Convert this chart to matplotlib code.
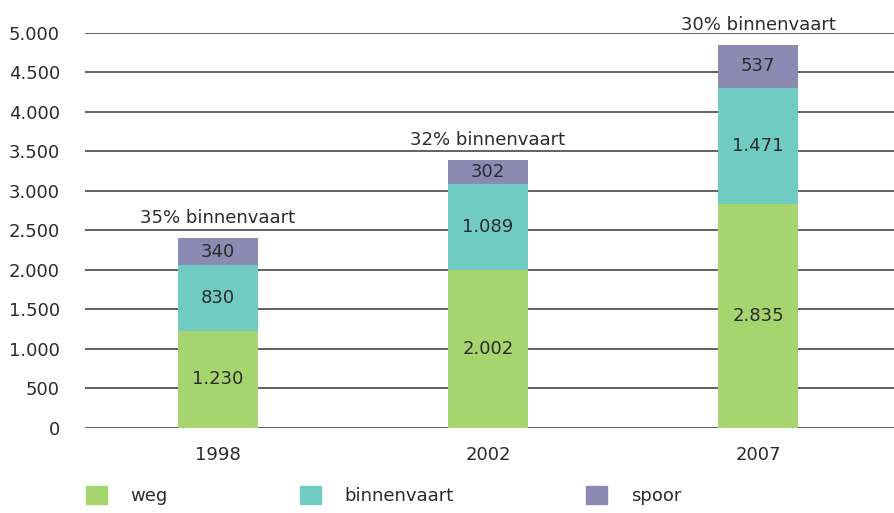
import matplotlib
matplotlib.use("Agg")
import matplotlib.pyplot as plt
from matplotlib.patches import Patch

# data
years = ["1998", "2002", "2007"]
weg = [1230, 2002, 2835]
binnenvaart = [830, 1089, 1471]
spoor = [340, 302, 537]
share_labels = ["35% binnenvaart", "32% binnenvaart", "30% binnenvaart"]
series_names = ["weg", "binnenvaart", "spoor"]

c_weg = "#a6d46e"
c_bin = "#70cbc2"
c_spo = "#8a8ab3"
txt = "#2b2b2b"

plt.rcParams["font.family"] = ["DejaVu Sans"]

fig = plt.figure(figsize=(8.94, 5.13), dpi=100)
ax = fig.add_axes([0.095, 0.166, 0.905, 0.770])

x = range(len(years))
w = 0.296

# grid lines
for v in range(0, 5001, 500):
    ax.axhline(v, color="#555555", lw=1.3, zorder=1)

ax.bar(x, weg, w, color=c_weg, zorder=2)
ax.bar(x, binnenvaart, w, bottom=weg, color=c_bin, zorder=2)
bottom3 = [a + b for a, b in zip(weg, binnenvaart)]
ax.bar(x, spoor, w, bottom=bottom3, color=c_spo, zorder=2)

def fmt(v):
    return f"{v:,}".replace(",", ".")

for i in x:
    ax.text(i, weg[i] / 2, fmt(weg[i]), ha="center", va="center",
            fontsize=13, color=txt, zorder=3)
    ax.text(i, weg[i] + binnenvaart[i] / 2, fmt(binnenvaart[i]), ha="center",
            va="center", fontsize=13, color=txt, zorder=3)
    ax.text(i, bottom3[i] + spoor[i] / 2, fmt(spoor[i]), ha="center",
            va="center", fontsize=13, color=txt, zorder=3)
    total = bottom3[i] + spoor[i]
    ax.annotate(share_labels[i], (i, total), xytext=(0, 8),
                textcoords="offset points", ha="center", va="bottom",
                fontsize=13, color=txt)

ax.set_xlim(-0.493, 2.504)
ax.set_ylim(0, 5000)
ax.set_yticks(range(0, 5001, 500))
ax.set_yticklabels([fmt(v) for v in range(0, 5001, 500)])
ax.set_xticks(list(x))
ax.set_xticklabels(years)
ax.tick_params(length=0, labelsize=13, colors=txt)
ax.tick_params(axis="y", pad=18)
ax.tick_params(axis="x", pad=13)
for s in ax.spines.values():
    s.set_visible(False)

handles = [Patch(color=c_weg), Patch(color=c_bin), Patch(color=c_spo)]
fig.legend(handles, series_names, loc="lower left", bbox_to_anchor=(0.078, -0.016),
           ncol=3, frameon=False, fontsize=13, handlelength=1.15, handleheight=1.15,
           handletextpad=1.3, columnspacing=7.35, labelcolor=txt)

fig.savefig("out.png", dpi=100)
